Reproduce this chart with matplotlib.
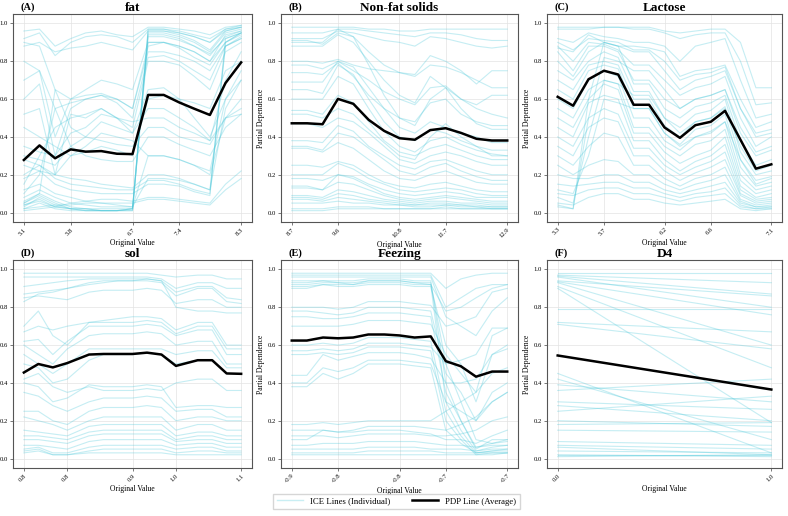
import matplotlib
matplotlib.use("Agg")
import matplotlib.pyplot as plt
from matplotlib.lines import Line2D

plt.rcParams['font.family'] = ['Liberation Serif', 'DejaVu Serif']

# ---- data ----
titles = ["fat", "Non-fat solids", "Lactose", "sol", "Feezing", "D4"]
letters = ["(A)", "(B)", "(C)", "(D)", "(E)", "(F)"]

fat_x = [5.10, 5.33, 5.56, 5.79, 6.01, 6.24, 6.47, 6.70, 6.93, 7.16, 7.39, 7.61, 7.84, 8.07, 8.30]
fat_pdp = [0.278, 0.355, 0.287, 0.334, 0.322, 0.325, 0.311, 0.309, 0.622, 0.622, 0.582, 0.549, 0.516, 0.685, 0.794]
fat_ice = [
    [0.04, 0.07, 0.03, 0.02, 0.01, 0.01, 0.01, 0.01, 0.95, 0.95, 0.93, 0.90, 0.85, 0.95, 0.97],
    [0.03, 0.08, 0.04, 0.02, 0.01, 0.01, 0.01, 0.02, 0.94, 0.94, 0.92, 0.88, 0.83, 0.93, 0.96],
    [0.05, 0.09, 0.05, 0.02, 0.02, 0.01, 0.01, 0.02, 0.96, 0.96, 0.94, 0.91, 0.86, 0.96, 0.98],
    [0.02, 0.05, 0.02, 0.01, 0.01, 0.01, 0.01, 0.01, 0.93, 0.93, 0.91, 0.88, 0.84, 0.92, 0.95],
    [0.06, 0.10, 0.06, 0.03, 0.02, 0.02, 0.02, 0.02, 0.97, 0.97, 0.95, 0.93, 0.90, 0.97, 0.99],
    [0.04, 0.06, 0.03, 0.02, 0.02, 0.01, 0.01, 0.02, 0.90, 0.90, 0.88, 0.85, 0.80, 0.94, 0.96],
    [0.96, 0.97, 0.88, 0.92, 0.95, 0.96, 0.94, 0.93, 0.98, 0.98, 0.97, 0.96, 0.94, 0.98, 0.99],
    [0.92, 0.95, 0.83, 0.90, 0.93, 0.94, 0.93, 0.90, 0.97, 0.97, 0.96, 0.94, 0.92, 0.97, 0.98],
    [0.88, 0.90, 0.85, 0.87, 0.88, 0.90, 0.88, 0.86, 0.96, 0.96, 0.95, 0.93, 0.90, 0.96, 0.98],
    [0.70, 0.75, 0.40, 0.60, 0.65, 0.70, 0.68, 0.65, 0.90, 0.90, 0.88, 0.85, 0.80, 0.90, 0.95],
    [0.60, 0.68, 0.30, 0.55, 0.60, 0.62, 0.60, 0.55, 0.85, 0.85, 0.83, 0.80, 0.75, 0.88, 0.92],
    [0.52, 0.55, 0.20, 0.52, 0.50, 0.55, 0.50, 0.45, 0.80, 0.80, 0.78, 0.72, 0.65, 0.85, 0.90],
    [0.05, 0.10, 0.65, 0.60, 0.62, 0.63, 0.60, 0.55, 0.88, 0.90, 0.87, 0.82, 0.78, 0.90, 0.95],
    [0.10, 0.20, 0.55, 0.58, 0.60, 0.62, 0.58, 0.50, 0.82, 0.83, 0.80, 0.75, 0.70, 0.88, 0.92],
    [0.15, 0.30, 0.45, 0.50, 0.52, 0.55, 0.50, 0.42, 0.65, 0.66, 0.60, 0.50, 0.40, 0.60, 0.75],
    [0.35, 0.32, 0.30, 0.42, 0.45, 0.52, 0.50, 0.48, 0.50, 0.50, 0.45, 0.42, 0.38, 0.50, 0.52],
    [0.30, 0.28, 0.25, 0.35, 0.40, 0.48, 0.45, 0.42, 0.55, 0.55, 0.50, 0.45, 0.38, 0.70, 0.85],
    [0.25, 0.22, 0.20, 0.30, 0.35, 0.42, 0.40, 0.38, 0.30, 0.30, 0.28, 0.25, 0.22, 0.60, 0.70],
    [0.45, 0.40, 0.35, 0.30, 0.32, 0.35, 0.33, 0.30, 0.60, 0.62, 0.60, 0.58, 0.55, 0.75, 0.80],
    [0.90, 0.88, 0.65, 0.45, 0.40, 0.38, 0.36, 0.35, 0.45, 0.45, 0.40, 0.38, 0.36, 0.50, 0.55],
    [0.80, 0.75, 0.55, 0.35, 0.30, 0.28, 0.27, 0.27, 0.40, 0.40, 0.36, 0.33, 0.30, 0.45, 0.52],
    [0.01, 0.02, 0.03, 0.05, 0.06, 0.07, 0.07, 0.06, 0.08, 0.08, 0.07, 0.06, 0.05, 0.15, 0.22],
    [0.02, 0.03, 0.04, 0.04, 0.05, 0.05, 0.05, 0.05, 0.07, 0.07, 0.06, 0.05, 0.04, 0.12, 0.18],
    [0.20, 0.25, 0.18, 0.15, 0.14, 0.13, 0.12, 0.12, 0.17, 0.17, 0.15, 0.12, 0.10, 0.92, 0.95],
    [0.18, 0.22, 0.15, 0.12, 0.11, 0.10, 0.10, 0.10, 0.15, 0.15, 0.14, 0.11, 0.09, 0.90, 0.94],
    [0.28, 0.25, 0.20, 0.18, 0.17, 0.15, 0.14, 0.13, 0.20, 0.20, 0.18, 0.15, 0.12, 0.55, 0.70],
    [0.12, 0.15, 0.10, 0.08, 0.06, 0.05, 0.04, 0.03, 0.30, 0.30, 0.28, 0.25, 0.20, 0.50, 0.60],
    [0.08, 0.12, 0.08, 0.05, 0.04, 0.03, 0.03, 0.03, 0.18, 0.18, 0.17, 0.15, 0.12, 0.88, 0.93],
]

nfs_x = [8.7, 9.0, 9.3, 9.6, 9.9, 10.2, 10.5, 10.8, 11.1, 11.4, 11.7, 12.0, 12.3, 12.6, 12.9]
nfs_pdp = [0.472, 0.472, 0.467, 0.601, 0.575, 0.490, 0.432, 0.393, 0.385, 0.436, 0.446, 0.421, 0.390, 0.381, 0.381]
nfs_ice = [
    [0.98, 0.98, 0.98, 0.98, 0.98, 0.97, 0.97, 0.96, 0.96, 0.97, 0.97, 0.97, 0.97, 0.97, 0.97],
    [0.95, 0.95, 0.95, 0.97, 0.97, 0.96, 0.95, 0.94, 0.93, 0.95, 0.95, 0.94, 0.92, 0.91, 0.91],
    [0.92, 0.92, 0.92, 0.96, 0.95, 0.93, 0.91, 0.90, 0.88, 0.93, 0.92, 0.90, 0.88, 0.87, 0.88],
    [0.91, 0.91, 0.89, 0.95, 0.93, 0.85, 0.78, 0.74, 0.73, 0.83, 0.80, 0.75, 0.68, 0.75, 0.75],
    [0.88, 0.88, 0.88, 0.94, 0.90, 0.80, 0.70, 0.62, 0.58, 0.72, 0.66, 0.60, 0.57, 0.62, 0.62],
    [0.90, 0.90, 0.90, 0.97, 0.93, 0.78, 0.62, 0.50, 0.46, 0.60, 0.66, 0.55, 0.47, 0.44, 0.44],
    [0.80, 0.80, 0.79, 0.81, 0.78, 0.76, 0.75, 0.74, 0.72, 0.78, 0.77, 0.74, 0.70, 0.66, 0.66],
    [0.78, 0.78, 0.76, 0.80, 0.75, 0.70, 0.64, 0.60, 0.57, 0.66, 0.67, 0.60, 0.55, 0.52, 0.50],
    [0.74, 0.74, 0.73, 0.79, 0.72, 0.62, 0.55, 0.50, 0.48, 0.58, 0.60, 0.52, 0.48, 0.46, 0.46],
    [0.69, 0.69, 0.69, 0.80, 0.77, 0.66, 0.55, 0.45, 0.42, 0.48, 0.45, 0.42, 0.40, 0.37, 0.37],
    [0.65, 0.65, 0.63, 0.78, 0.73, 0.60, 0.48, 0.40, 0.38, 0.44, 0.42, 0.38, 0.35, 0.33, 0.33],
    [0.60, 0.60, 0.60, 0.72, 0.68, 0.55, 0.43, 0.35, 0.32, 0.38, 0.40, 0.36, 0.33, 0.31, 0.30],
    [0.54, 0.54, 0.52, 0.62, 0.58, 0.48, 0.38, 0.32, 0.30, 0.34, 0.36, 0.33, 0.30, 0.28, 0.28],
    [0.52, 0.52, 0.50, 0.55, 0.52, 0.44, 0.37, 0.30, 0.28, 0.40, 0.47, 0.40, 0.35, 0.30, 0.30],
    [0.47, 0.47, 0.45, 0.50, 0.48, 0.42, 0.35, 0.28, 0.26, 0.30, 0.32, 0.30, 0.27, 0.25, 0.25],
    [0.38, 0.38, 0.37, 0.46, 0.43, 0.35, 0.30, 0.25, 0.23, 0.27, 0.28, 0.25, 0.22, 0.20, 0.20],
    [0.35, 0.35, 0.33, 0.42, 0.40, 0.34, 0.28, 0.22, 0.20, 0.24, 0.26, 0.22, 0.19, 0.17, 0.17],
    [0.34, 0.34, 0.32, 0.37, 0.34, 0.28, 0.22, 0.18, 0.17, 0.20, 0.22, 0.19, 0.16, 0.15, 0.15],
    [0.25, 0.25, 0.24, 0.27, 0.25, 0.20, 0.16, 0.14, 0.13, 0.15, 0.16, 0.14, 0.12, 0.11, 0.11],
    [0.20, 0.20, 0.20, 0.26, 0.23, 0.18, 0.15, 0.12, 0.11, 0.12, 0.13, 0.12, 0.10, 0.09, 0.09],
    [0.18, 0.18, 0.17, 0.20, 0.19, 0.15, 0.12, 0.10, 0.09, 0.10, 0.11, 0.10, 0.08, 0.08, 0.08],
    [0.14, 0.14, 0.12, 0.20, 0.18, 0.14, 0.10, 0.08, 0.07, 0.08, 0.09, 0.08, 0.07, 0.06, 0.06],
    [0.13, 0.13, 0.12, 0.16, 0.15, 0.12, 0.09, 0.07, 0.06, 0.07, 0.08, 0.07, 0.06, 0.05, 0.05],
    [0.09, 0.09, 0.08, 0.12, 0.11, 0.09, 0.07, 0.06, 0.05, 0.06, 0.06, 0.05, 0.05, 0.04, 0.04],
    [0.08, 0.08, 0.07, 0.10, 0.09, 0.07, 0.06, 0.05, 0.04, 0.05, 0.05, 0.04, 0.04, 0.03, 0.03],
    [0.07, 0.07, 0.06, 0.08, 0.07, 0.06, 0.05, 0.04, 0.04, 0.04, 0.04, 0.04, 0.03, 0.03, 0.03],
    [0.05, 0.05, 0.05, 0.06, 0.05, 0.05, 0.04, 0.04, 0.03, 0.03, 0.04, 0.03, 0.03, 0.02, 0.02],
    [0.02, 0.02, 0.02, 0.03, 0.03, 0.03, 0.02, 0.02, 0.02, 0.02, 0.03, 0.02, 0.02, 0.02, 0.02],
    [0.01, 0.01, 0.01, 0.02, 0.02, 0.02, 0.02, 0.02, 0.02, 0.02, 0.02, 0.02, 0.02, 0.02, 0.02],
]

lac_x = [5.30, 5.43, 5.56, 5.69, 5.81, 5.94, 6.07, 6.20, 6.33, 6.46, 6.59, 6.71, 6.84, 6.97, 7.10]
lac_pdp = [0.612, 0.565, 0.705, 0.750, 0.730, 0.570, 0.570, 0.450, 0.395, 0.462, 0.480, 0.538, 0.385, 0.232, 0.255]
lac_ice = [
    [0.98, 0.98, 0.98, 0.98, 0.98, 0.98, 0.98, 0.96, 0.95, 0.96, 0.97, 0.97, 0.90, 0.66, 0.66],
    [0.97, 0.97, 0.97, 0.98, 0.98, 0.97, 0.97, 0.95, 0.92, 0.94, 0.95, 0.95, 0.80, 0.57, 0.58],
    [0.92, 0.90, 0.95, 0.93, 0.92, 0.90, 0.90, 0.88, 0.80, 0.88, 0.90, 0.92, 0.70, 0.50, 0.52],
    [0.87, 0.85, 0.94, 0.90, 0.88, 0.88, 0.87, 0.85, 0.72, 0.75, 0.76, 0.78, 0.60, 0.45, 0.48],
    [0.90, 0.86, 0.92, 0.91, 0.90, 0.86, 0.86, 0.80, 0.70, 0.73, 0.74, 0.77, 0.55, 0.42, 0.44],
    [0.88, 0.80, 0.90, 0.89, 0.86, 0.78, 0.78, 0.70, 0.62, 0.66, 0.68, 0.72, 0.50, 0.35, 0.40],
    [0.85, 0.75, 0.88, 0.88, 0.85, 0.70, 0.70, 0.60, 0.55, 0.60, 0.62, 0.65, 0.42, 0.30, 0.33],
    [0.80, 0.72, 0.85, 0.90, 0.88, 0.68, 0.68, 0.55, 0.50, 0.56, 0.58, 0.62, 0.38, 0.25, 0.28],
    [0.75, 0.70, 0.80, 0.85, 0.82, 0.64, 0.64, 0.50, 0.45, 0.52, 0.54, 0.60, 0.32, 0.20, 0.22],
    [0.70, 0.65, 0.78, 0.80, 0.78, 0.60, 0.60, 0.46, 0.40, 0.48, 0.50, 0.56, 0.28, 0.17, 0.19],
    [0.65, 0.60, 0.75, 0.78, 0.76, 0.55, 0.55, 0.42, 0.36, 0.44, 0.46, 0.52, 0.24, 0.14, 0.16],
    [0.60, 0.55, 0.70, 0.75, 0.72, 0.50, 0.50, 0.38, 0.33, 0.40, 0.42, 0.48, 0.20, 0.12, 0.14],
    [0.55, 0.50, 0.65, 0.70, 0.68, 0.45, 0.45, 0.35, 0.30, 0.36, 0.38, 0.44, 0.17, 0.10, 0.12],
    [0.50, 0.45, 0.60, 0.68, 0.65, 0.42, 0.42, 0.32, 0.26, 0.30, 0.33, 0.40, 0.14, 0.08, 0.10],
    [0.45, 0.40, 0.58, 0.62, 0.60, 0.38, 0.38, 0.28, 0.22, 0.27, 0.30, 0.36, 0.12, 0.07, 0.08],
    [0.40, 0.35, 0.50, 0.55, 0.52, 0.34, 0.34, 0.25, 0.20, 0.24, 0.27, 0.32, 0.10, 0.06, 0.07],
    [0.35, 0.30, 0.45, 0.50, 0.48, 0.30, 0.30, 0.22, 0.17, 0.21, 0.24, 0.28, 0.09, 0.05, 0.06],
    [0.30, 0.25, 0.35, 0.42, 0.40, 0.25, 0.25, 0.18, 0.14, 0.18, 0.20, 0.24, 0.07, 0.04, 0.05],
    [0.25, 0.20, 0.25, 0.28, 0.27, 0.20, 0.20, 0.15, 0.12, 0.15, 0.17, 0.20, 0.06, 0.03, 0.04],
    [0.20, 0.18, 0.18, 0.20, 0.20, 0.16, 0.16, 0.12, 0.10, 0.12, 0.14, 0.16, 0.05, 0.03, 0.03],
    [0.15, 0.14, 0.15, 0.16, 0.16, 0.13, 0.13, 0.10, 0.08, 0.10, 0.11, 0.13, 0.04, 0.02, 0.03],
    [0.10, 0.09, 0.12, 0.13, 0.13, 0.10, 0.10, 0.08, 0.06, 0.08, 0.09, 0.10, 0.03, 0.02, 0.02],
    [0.05, 0.04, 0.08, 0.10, 0.10, 0.07, 0.07, 0.05, 0.04, 0.05, 0.06, 0.07, 0.02, 0.01, 0.02],
    [0.04, 0.02, 0.60, 0.90, 0.88, 0.85, 0.85, 0.75, 0.65, 0.70, 0.72, 0.75, 0.55, 0.40, 0.42],
    [0.03, 0.02, 0.50, 0.82, 0.80, 0.75, 0.75, 0.65, 0.55, 0.60, 0.62, 0.65, 0.45, 0.32, 0.35],
    [0.08, 0.05, 0.40, 0.70, 0.68, 0.62, 0.62, 0.50, 0.42, 0.48, 0.50, 0.55, 0.35, 0.22, 0.25],
    [0.12, 0.10, 0.30, 0.60, 0.58, 0.55, 0.55, 0.42, 0.35, 0.40, 0.43, 0.48, 0.28, 0.15, 0.18],
]

sol_x = [0.78, 0.80, 0.82, 0.84, 0.87, 0.89, 0.91, 0.93, 0.95, 0.97, 0.99, 1.02, 1.04, 1.06, 1.08]
sol_pdp = [0.455, 0.500, 0.482, 0.505, 0.550, 0.553, 0.553, 0.553, 0.560, 0.550, 0.490, 0.520, 0.520, 0.450, 0.448]
sol_ice = [
    [0.98, 0.98, 0.98, 0.98, 0.98, 0.98, 0.98, 0.98, 0.98, 0.97, 0.96, 0.97, 0.97, 0.95, 0.95],
    [0.96, 0.96, 0.96, 0.96, 0.96, 0.96, 0.96, 0.96, 0.96, 0.95, 0.90, 0.93, 0.93, 0.90, 0.90],
    [0.91, 0.92, 0.93, 0.94, 0.95, 0.95, 0.95, 0.95, 0.95, 0.94, 0.88, 0.91, 0.91, 0.85, 0.84],
    [0.87, 0.88, 0.89, 0.90, 0.92, 0.93, 0.94, 0.94, 0.94, 0.93, 0.86, 0.90, 0.90, 0.83, 0.82],
    [0.83, 0.87, 0.88, 0.90, 0.93, 0.94, 0.94, 0.94, 0.95, 0.94, 0.80, 0.78, 0.78, 0.77, 0.77],
    [0.85, 0.86, 0.85, 0.84, 0.88, 0.89, 0.89, 0.89, 0.90, 0.89, 0.82, 0.84, 0.84, 0.80, 0.80],
    [0.70, 0.78, 0.65, 0.60, 0.72, 0.72, 0.72, 0.72, 0.73, 0.72, 0.66, 0.70, 0.70, 0.58, 0.58],
    [0.67, 0.70, 0.68, 0.70, 0.72, 0.73, 0.74, 0.75, 0.75, 0.74, 0.68, 0.72, 0.72, 0.60, 0.60],
    [0.62, 0.63, 0.55, 0.62, 0.70, 0.70, 0.70, 0.70, 0.71, 0.70, 0.65, 0.68, 0.68, 0.55, 0.55],
    [0.60, 0.55, 0.50, 0.58, 0.65, 0.66, 0.66, 0.66, 0.67, 0.66, 0.60, 0.62, 0.62, 0.50, 0.50],
    [0.55, 0.50, 0.45, 0.50, 0.58, 0.58, 0.58, 0.58, 0.58, 0.58, 0.55, 0.57, 0.57, 0.48, 0.48],
    [0.50, 0.48, 0.40, 0.42, 0.52, 0.55, 0.55, 0.55, 0.56, 0.55, 0.50, 0.52, 0.52, 0.45, 0.45],
    [0.42, 0.45, 0.38, 0.35, 0.38, 0.36, 0.36, 0.36, 0.37, 0.36, 0.40, 0.42, 0.42, 0.36, 0.36],
    [0.40, 0.38, 0.30, 0.32, 0.39, 0.38, 0.38, 0.38, 0.39, 0.38, 0.27, 0.28, 0.28, 0.27, 0.27],
    [0.35, 0.33, 0.28, 0.25, 0.30, 0.32, 0.32, 0.32, 0.33, 0.32, 0.25, 0.26, 0.26, 0.22, 0.22],
    [0.25, 0.25, 0.20, 0.18, 0.25, 0.27, 0.27, 0.27, 0.28, 0.27, 0.20, 0.22, 0.22, 0.20, 0.20],
    [0.22, 0.20, 0.18, 0.15, 0.20, 0.22, 0.22, 0.22, 0.22, 0.22, 0.15, 0.18, 0.18, 0.15, 0.15],
    [0.15, 0.14, 0.13, 0.12, 0.17, 0.18, 0.18, 0.18, 0.18, 0.18, 0.12, 0.14, 0.14, 0.12, 0.12],
    [0.12, 0.12, 0.11, 0.10, 0.14, 0.15, 0.15, 0.15, 0.15, 0.15, 0.10, 0.12, 0.12, 0.10, 0.10],
    [0.10, 0.10, 0.09, 0.08, 0.12, 0.13, 0.13, 0.13, 0.13, 0.13, 0.09, 0.10, 0.10, 0.08, 0.08],
    [0.07, 0.07, 0.06, 0.05, 0.09, 0.10, 0.10, 0.10, 0.10, 0.10, 0.07, 0.08, 0.08, 0.06, 0.06],
    [0.05, 0.06, 0.03, 0.03, 0.06, 0.07, 0.07, 0.07, 0.07, 0.07, 0.05, 0.06, 0.06, 0.04, 0.04],
    [0.04, 0.05, 0.02, 0.02, 0.04, 0.05, 0.05, 0.05, 0.05, 0.05, 0.03, 0.04, 0.04, 0.03, 0.03],
    [0.03, 0.04, 0.02, 0.02, 0.03, 0.03, 0.03, 0.03, 0.03, 0.03, 0.02, 0.02, 0.02, 0.02, 0.02],
]

fz_x = [-0.860, -0.846, -0.831, -0.817, -0.803, -0.789, -0.774, -0.760,
        -0.746, -0.731, -0.717, -0.703, -0.689, -0.674, -0.660]
fz_pdp = [0.624, 0.624, 0.640, 0.636, 0.640, 0.656, 0.656, 0.651, 0.640, 0.646, 0.515, 0.488, 0.433, 0.460, 0.460]
fz_ice = [
    [0.98, 0.98, 0.98, 0.98, 0.98, 0.98, 0.98, 0.98, 0.98, 0.98, 0.90, 0.95, 0.97, 0.98, 0.98],
    [0.97, 0.97, 0.97, 0.97, 0.97, 0.97, 0.97, 0.97, 0.97, 0.97, 0.80, 0.85, 0.90, 0.92, 0.92],
    [0.96, 0.96, 0.96, 0.96, 0.96, 0.96, 0.96, 0.96, 0.96, 0.96, 0.75, 0.70, 0.65, 0.78, 0.85],
    [0.94, 0.94, 0.94, 0.94, 0.94, 0.95, 0.95, 0.95, 0.94, 0.94, 0.40, 0.20, 0.05, 0.10, 0.10],
    [0.93, 0.93, 0.94, 0.93, 0.93, 0.94, 0.94, 0.94, 0.93, 0.93, 0.50, 0.30, 0.10, 0.08, 0.09],
    [0.92, 0.92, 0.93, 0.93, 0.92, 0.94, 0.94, 0.94, 0.93, 0.92, 0.78, 0.80, 0.85, 0.90, 0.92],
    [0.91, 0.91, 0.92, 0.92, 0.92, 0.93, 0.93, 0.93, 0.92, 0.92, 0.30, 0.15, 0.04, 0.05, 0.05],
    [0.90, 0.90, 0.92, 0.91, 0.91, 0.92, 0.92, 0.92, 0.91, 0.91, 0.60, 0.50, 0.30, 0.55, 0.60],
    [0.80, 0.80, 0.80, 0.79, 0.80, 0.83, 0.83, 0.83, 0.82, 0.81, 0.70, 0.72, 0.75, 0.88, 0.90],
    [0.78, 0.78, 0.77, 0.76, 0.77, 0.80, 0.80, 0.80, 0.79, 0.78, 0.45, 0.35, 0.20, 0.30, 0.35],
    [0.75, 0.75, 0.74, 0.74, 0.75, 0.77, 0.77, 0.77, 0.76, 0.75, 0.35, 0.20, 0.06, 0.07, 0.07],
    [0.70, 0.70, 0.70, 0.70, 0.71, 0.73, 0.73, 0.73, 0.72, 0.71, 0.55, 0.45, 0.35, 0.65, 0.69],
    [0.60, 0.60, 0.61, 0.60, 0.61, 0.64, 0.64, 0.64, 0.63, 0.62, 0.25, 0.12, 0.03, 0.04, 0.04],
    [0.57, 0.57, 0.58, 0.57, 0.58, 0.61, 0.61, 0.61, 0.60, 0.59, 0.50, 0.52, 0.55, 0.69, 0.69],
    [0.55, 0.55, 0.56, 0.55, 0.56, 0.59, 0.59, 0.59, 0.58, 0.57, 0.20, 0.10, 0.02, 0.03, 0.03],
    [0.44, 0.44, 0.55, 0.52, 0.54, 0.56, 0.56, 0.56, 0.55, 0.53, 0.40, 0.40, 0.42, 0.55, 0.58],
    [0.40, 0.40, 0.48, 0.46, 0.48, 0.52, 0.52, 0.52, 0.51, 0.50, 0.30, 0.25, 0.20, 0.35, 0.40],
    [0.38, 0.38, 0.45, 0.42, 0.45, 0.50, 0.50, 0.50, 0.49, 0.48, 0.15, 0.08, 0.03, 0.03, 0.03],
    [0.18, 0.18, 0.19, 0.18, 0.19, 0.20, 0.20, 0.20, 0.20, 0.20, 0.25, 0.30, 0.35, 0.45, 0.48],
    [0.15, 0.15, 0.15, 0.14, 0.15, 0.17, 0.17, 0.17, 0.17, 0.16, 0.15, 0.18, 0.22, 0.30, 0.35],
    [0.12, 0.12, 0.12, 0.11, 0.12, 0.13, 0.13, 0.13, 0.13, 0.12, 0.12, 0.13, 0.15, 0.20, 0.22],
    [0.10, 0.10, 0.15, 0.14, 0.14, 0.15, 0.15, 0.15, 0.14, 0.13, 0.10, 0.10, 0.08, 0.12, 0.15],
    [0.07, 0.07, 0.08, 0.08, 0.08, 0.09, 0.09, 0.09, 0.09, 0.08, 0.07, 0.07, 0.06, 0.08, 0.10],
    [0.05, 0.05, 0.05, 0.05, 0.05, 0.06, 0.06, 0.06, 0.06, 0.05, 0.05, 0.05, 0.04, 0.06, 0.07],
    [0.03, 0.03, 0.03, 0.03, 0.03, 0.04, 0.04, 0.04, 0.04, 0.04, 0.03, 0.03, 0.03, 0.04, 0.05],
    [0.02, 0.02, 0.02, 0.02, 0.02, 0.02, 0.02, 0.02, 0.02, 0.02, 0.02, 0.02, 0.02, 0.02, 0.03],
]

d4_x = [0.0, 1.0]
d4_pdp = [0.545, 0.365]
d4_left = [0.98, 0.97, 0.965, 0.96, 0.94, 0.935, 0.93, 0.91, 0.90, 0.79, 0.72, 0.71, 0.45, 0.42, 0.39,
           0.36, 0.30, 0.28, 0.25, 0.20, 0.18, 0.15, 0.09, 0.07, 0.06, 0.04, 0.02, 0.02, 0.01]
d4_right = [0.98, 0.93, 0.87, 0.80, 0.86, 0.76, 0.60, 0.48, 0.19, 0.79, 0.67, 0.58, 0.03, 0.10, 0.30,
            0.42, 0.26, 0.20, 0.33, 0.17, 0.19, 0.14, 0.07, 0.05, 0.02, 0.03, 0.02, 0.01, 0.02]
d4_ice = [[a, b] for a, b in zip(d4_left, d4_right)]

panels = [
    (fat_x, fat_ice, fat_pdp, [0, 3, 7, 10, 14]),
    (nfs_x, nfs_ice, nfs_pdp, [0, 3, 7, 10, 14]),
    (lac_x, lac_ice, lac_pdp, [0, 3, 7, 10, 14]),
    (sol_x, sol_ice, sol_pdp, [0, 3, 7, 10, 14]),
    (fz_x, fz_ice, fz_pdp, [0, 3, 7, 10, 14]),
    (d4_x, d4_ice, d4_pdp, [0, 1]),
]

ICE_COLOR = '#4cc8da'

# axes boxes in pixels (left, right, top, bottom) of a 788x516 canvas
W, H = 788, 516
cols = [(13, 252), (281, 518), (547, 782)]
rows = [(14, 222), (260, 468)]

fig = plt.figure(figsize=(W / 100, H / 100), dpi=100)

for k, (x, ice, pdp, tick_idx) in enumerate(panels):
    l, r = cols[k % 3]
    t, b = rows[k // 3]
    ax = fig.add_axes([l / W, 1 - b / H, (r - l) / W, (b - t) / H])

    for line in ice:
        ax.plot(x, line, color=ICE_COLOR, alpha=0.32, lw=0.8)
    ax.plot(x, pdp, color='black', lw=1.8)

    ax.set_ylim(-0.05, 1.05)
    yt = [0.0, 0.2, 0.4, 0.6, 0.8, 1.0]
    ax.set_yticks(yt)
    ax.set_yticklabels([f"{v:.1f}" for v in yt])
    ticks = [x[i] for i in tick_idx]
    ax.set_xticks(ticks)
    ax.set_xticklabels([f"{v:.1f}" for v in ticks], rotation=45, ha='right',
                       rotation_mode='anchor')
    ax.tick_params(labelsize=4.8, length=2, width=0.5, color='#444444', pad=1.5)
    ax.grid(True, color='#e3e3e3', lw=0.5)
    for s in ax.spines.values():
        s.set_color('#555555')
        s.set_linewidth(0.8)

    ax.set_xlabel("Original Value", fontsize=5.5, labelpad=2)
    if k % 3 != 0:
        ax.set_ylabel("Partial Dependence", fontsize=5.5, labelpad=2)
    ax.set_title(titles[k], fontsize=9.5, fontweight='bold', pad=2)
    ax.text(0.03, 1.01, letters[k], transform=ax.transAxes, fontsize=7.5,
            fontweight='bold', va='bottom', ha='left')

handles = [Line2D([], [], color=ICE_COLOR, alpha=0.3, lw=1.0),
           Line2D([], [], color='black', lw=1.8)]
fig.legend(handles, ["ICE Lines (Individual)", "PDP Line (Average)"],
           loc='lower center', bbox_to_anchor=(0.503, 0.005), ncol=2,
           fontsize=6.3, frameon=True, edgecolor='#cccccc', fancybox=False,
           handlelength=3, columnspacing=2.5)

fig.savefig("out.png", dpi=100)
